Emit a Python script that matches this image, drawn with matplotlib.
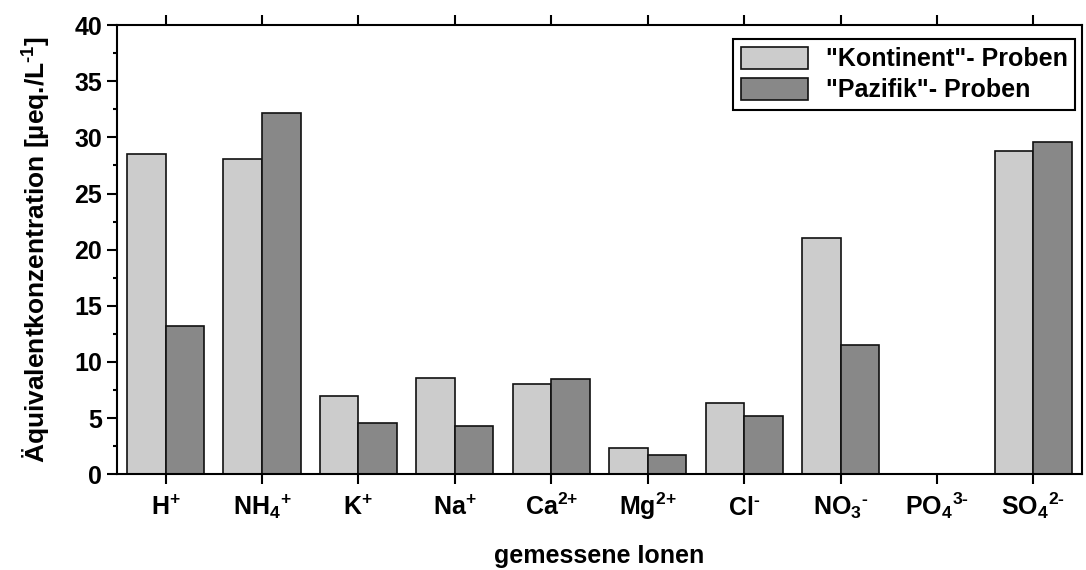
import numpy as np
import matplotlib
matplotlib.use('Agg')
import matplotlib.pyplot as plt
from matplotlib.ticker import MultipleLocator

plt.rcParams['font.family'] = 'Liberation Sans'
plt.rcParams['font.weight'] = 'bold'
plt.rcParams['mathtext.fontset'] = 'custom'
plt.rcParams['mathtext.rm'] = 'Liberation Sans:bold'
plt.rcParams['mathtext.it'] = 'Liberation Sans:bold'
plt.rcParams['mathtext.bf'] = 'Liberation Sans:bold'

# Ionen und Werte (µeq/L)
ions = [r'H$^{\text{+}}$', r'NH$_4$$^{\text{+}}$', r'K$^{\text{+}}$',
        r'Na$^{\text{+}}$', r'Ca$^{\text{2+}}$', r'Mg$^{\text{2+}}$',
        r'Cl$^{\text{-}}$', r'NO$_3$$^{\text{-}}$', r'PO$_4$$^{\text{3-}}$',
        r'SO$_4$$^{\text{2-}}$']
kontinent = [28.5, 28.1, 7.0, 8.6, 8.0, 2.3, 6.3, 21.0, 0.0, 28.8]
pazifik = [13.2, 32.2, 4.6, 4.3, 8.5, 1.7, 5.2, 11.5, 0.0, 29.6]

x = np.arange(1, len(ions) + 1)
w = 0.4
fs = 18

fig = plt.figure(figsize=(10.86, 5.7), dpi=100)
ax = fig.add_axes([0.108, 0.168, 0.888, 0.788])

ax.bar(x - w / 2, kontinent, w, color='#cccccc', edgecolor='#111111',
       linewidth=1.2, label='"Kontinent"- Proben')
ax.bar(x + w / 2, pazifik, w, color='#888888', edgecolor='#111111',
       linewidth=1.2, label='"Pazifik"- Proben')

ax.set_xlim(0.5, len(ions) + 0.5)
ax.set_ylim(0, 40)
ax.set_xticks(x)
ax.set_xticklabels(ions, fontsize=fs, va='baseline')
ax.yaxis.set_major_locator(MultipleLocator(5))
ax.yaxis.set_minor_locator(MultipleLocator(2.5))
ax.tick_params(axis='y', labelsize=fs, width=1.5, length=7, direction='out', pad=4)
ax.tick_params(axis='y', which='minor', width=1.5, length=3, direction='out')
ax.tick_params(axis='x', width=1.5, length=7, direction='out', top=True, pad=22)
for s in ax.spines.values():
    s.set_linewidth(1.5)

ax.set_ylabel('Äquivalentkonzentration [µeq./L$^{\\text{-1}}$]', fontsize=fs + 1,
              fontweight='bold', labelpad=15)
ax.set_xlabel('gemessene Ionen', fontsize=fs, fontweight='bold', va='baseline')
ax.xaxis.set_label_coords(0.5, -0.198)

leg = ax.legend(loc='upper right', bbox_to_anchor=(0.993, 0.969), borderaxespad=0,
                fontsize=fs, fancybox=False, framealpha=1, edgecolor='black',
                handlelength=2.7, handleheight=1.0, borderpad=0.3,
                labelspacing=0.25, handletextpad=0.7)
leg.get_frame().set_linewidth(1.5)

fig.savefig('out.png', dpi=100)
